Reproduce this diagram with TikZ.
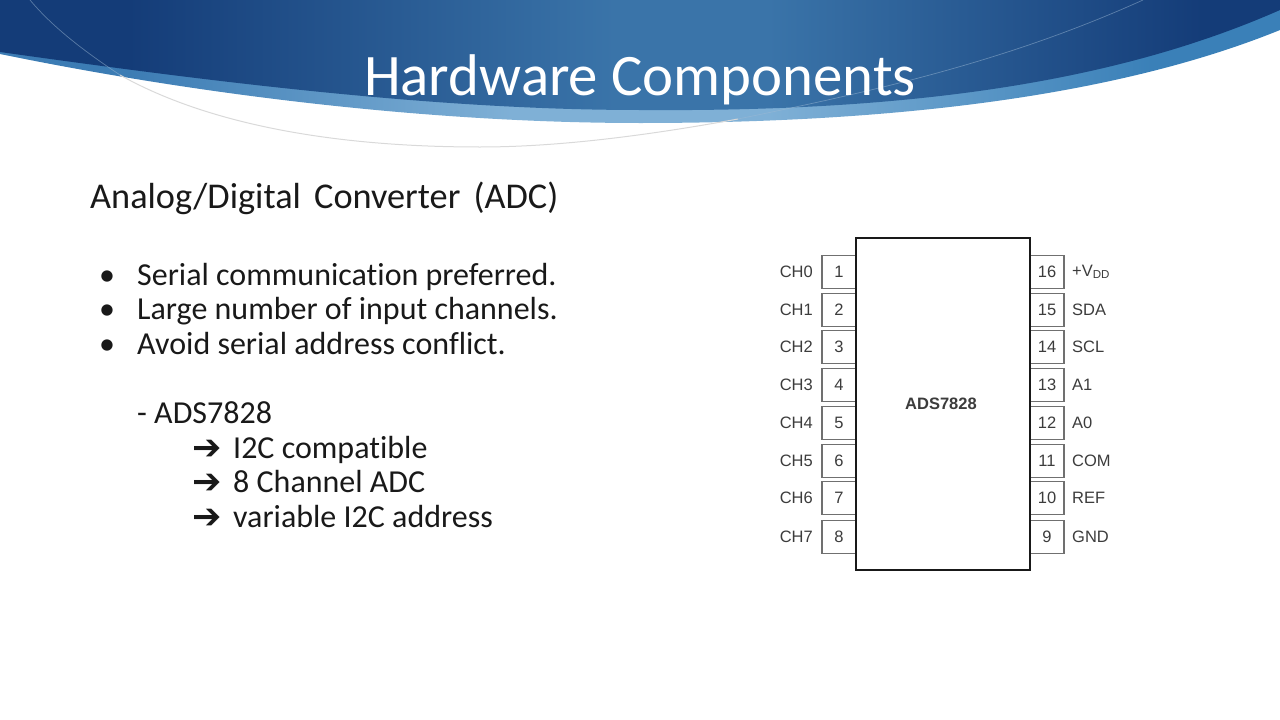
\documentclass[tikz,border=0pt]{standalone}
\usepackage{fontspec}
\setmainfont[Ligatures=NoCommon]{Carlito}
\newfontfamily\pinfont{Liberation Sans}
\newfontfamily\arrowfont{DejaVu Sans}
\usepackage{xcolor}
\definecolor{titleblue}{HTML}{143C78}
\definecolor{midblue}{HTML}{3A74A9}
\definecolor{bandleft}{HTML}{3C7CB4}
\definecolor{bandmid}{HTML}{7FB0D6}
\definecolor{bandright}{HTML}{3A80B8}
\definecolor{pinline}{HTML}{707070}
\definecolor{pintext}{HTML}{3C3C3C}
\pgfdeclarehorizontalshading{headershade}{100bp}{
  color(0bp)=(titleblue); color(30bp)=(titleblue); color(49bp)=(midblue); color(55bp)=(midblue);
  color(72bp)=(titleblue); color(100bp)=(titleblue)}
\pgfdeclarehorizontalshading{bandshade}{100bp}{
  color(0bp)=(bandleft); color(30bp)=(bandleft); color(45bp)=(bandmid); color(55bp)=(bandmid);
  color(70bp)=(bandright); color(100bp)=(bandright)}
\tikzset{
  headline/.style={anchor=base,font=\fontsize{58.8}{59}\selectfont,text=white},
  bodyline/.style={anchor=base west,font=\fontsize{32}{32}\selectfont,text=black!90,inner sep=0pt},
  arrowline/.style={anchor=base west,font=\arrowfont\fontsize{35}{35}\selectfont,text=black!90,inner sep=0pt},
  pinbox/.style={draw=pinline,line width=1.3pt,fill=white,minimum width=34pt,minimum height=33pt,
    inner sep=0pt,text=pintext,font=\pinfont\fontsize{16.5}{17}\selectfont},
  pinlabel/.style={text=pintext,inner sep=0pt,font=\pinfont\fontsize{16.5}{17}\selectfont},
}
\begin{document}
\begin{tikzpicture}[x=1pt,y=-1pt]
	\useasboundingbox (0,0) rectangle (1280,720);
	% header
	\shade[shading=bandshade] (0,54) .. controls (200,95) and (430,123) .. (640,123)
		.. controls (900,123) and (1120,95) .. (1280,30) -- (1280,0)
		.. controls (1110,70) and (900,100) .. (640,100)
		.. controls (430,100) and (200,60) .. (0,40) -- cycle;
	\shade[shading=headershade] (0,0) -- (1280,0) -- (1280,10)
		.. controls (1110,85) and (900,112) .. (640,110)
		.. controls (430,110) and (200,80) .. (0,52) -- cycle;
	\draw[black!15,line width=1pt] (120,75) .. controls (200,120) and (320,147) .. (480,147)
		.. controls (560,147) and (650,135) .. (738,119);
	\draw[white!50!midblue,opacity=.5,line width=0.7pt] (30,0) .. controls (55,30) and (90,55) .. (120,75);
	\draw[white!50!midblue,opacity=.5,line width=0.7pt] (738,119) .. controls (880,90) and (1010,60) .. (1143,0);
	\node[headline] (title) at (640,95) {Hardware Components};
	% text
	\node[bodyline,font=\fontsize{36.3}{36}\selectfont] (adc) at (90,208) {Analog/Digital\hspace{5pt} Converter\hspace{5pt} (ADC)};
	\node[bodyline] (bull1) at (99,285) {•};
	\node[bodyline] (bull2) at (99,319) {•};
	\node[bodyline] (bull3) at (99,354) {•};
	\node[bodyline] (item1) at (137,285) {Serial communication preferred.};
	\node[bodyline] (item2) at (137,319) {Large number of input channels.};
	\node[bodyline] (item3) at (137,354) {Avoid serial address conflict.};
	\node[bodyline] (part) at (137,423) {- ADS7828};
	\node[arrowline] (arr1) at (192,459) {➔};
	\node[arrowline] (arr2) at (192,493) {➔};
	\node[arrowline] (arr3) at (192,528) {➔};
	\node[bodyline] (feat1) at (233,458) {I2C compatible};
	\node[bodyline] (feat2) at (233,492) {8 Channel ADC};
	\node[bodyline] (feat3) at (233,527) {variable I2C address};
	% pins
	\foreach \n/\y/\lab in {1/272/CH0,2/310/CH1,3/347/CH2,4/385/CH3,5/423/CH4,6/461/CH5,7/498/CH6,8/537/CH7}{
		\node[pinbox] (pin\n) at (839,\y) {\n};
		\node[pinlabel,anchor=east] (lab\n) at (813,\y) {\lab};
	}
	\foreach \n/\y/\lab in {16/272/{+V\textsubscript{DD}},15/310/SDA,14/347/SCL,13/385/A1,12/423/A0,11/461/COM,10/498/REF,9/537/GND}{
		\node[pinbox] (pin\n) at (1047,\y) {\n};
		\node[pinlabel,anchor=west] (lab\n) at (1072,\y) {\lab};
	}
	\node[draw=black!90,line width=2.5pt,fill=white,minimum width=174pt,minimum height=332pt,inner sep=0pt] (ic) at (943,404) {};
	\node[text=pintext,inner sep=0pt,font=\pinfont\bfseries\fontsize{16.5}{17}\selectfont] (iclabel) at (941,404) {ADS7828};
\end{tikzpicture}
\end{document}
